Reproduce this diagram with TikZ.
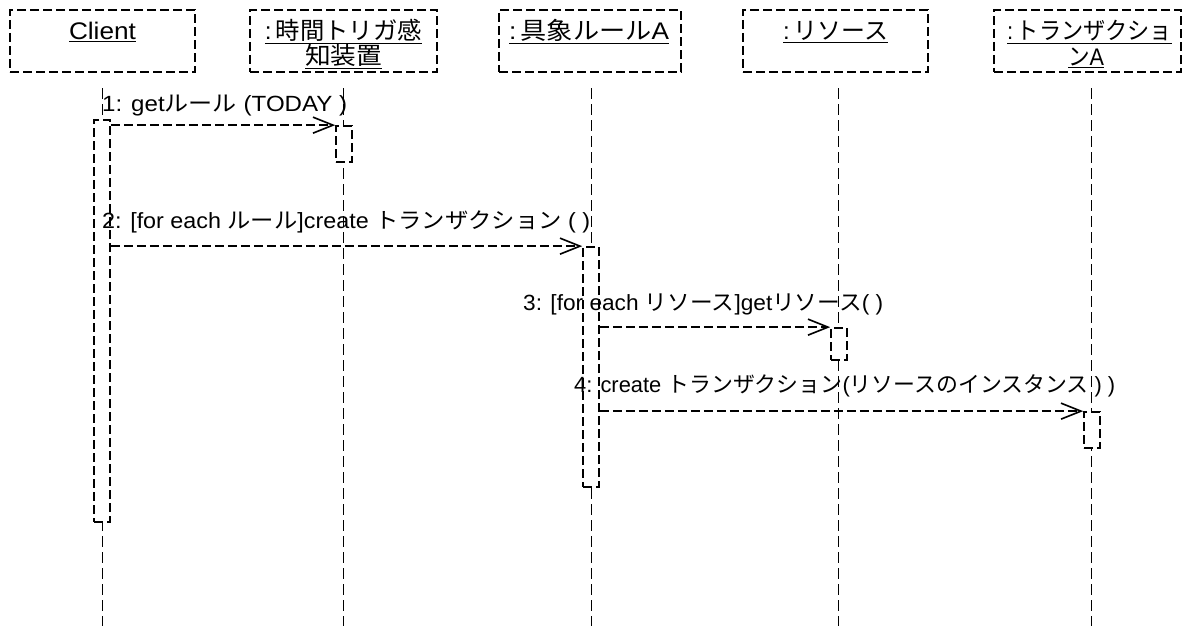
\documentclass[tikz,border=0pt]{standalone}
\usepackage{fontspec}
\setmainfont{Liberation Sans}
\newfontfamily\jp{Noto Sans CJK JP}
\usetikzlibrary{arrows.meta}
\newcommand\fitto[2]{\resizebox{#1}{\height}{#2}}
\begin{document}
\begin{tikzpicture}[x=1pt,y=-1pt,
  hdr/.style={draw, line width=1.7pt, dash pattern=on 9pt off 4pt, inner sep=0pt, minimum height=62pt},
  txt/.style={inner sep=0pt, font=\fontsize{22}{26}\selectfont},
  htxt/.style={inner sep=0pt, font=\fontsize{24}{28}\selectfont},
  life/.style={line width=1pt, dash pattern=on 11pt off 5pt},
  act/.style={draw, fill=white, line width=1.7pt, dash pattern=on 9pt off 4pt, inner sep=0pt, minimum width=16pt},
  msg/.style={line width=1.6pt, dash pattern=on 9pt off 4pt, -{Straight Barb[length=20pt,width=16pt,line width=1.6pt]}}]
\useasboundingbox (0,0) rectangle (1193,626);
\fill[white] (0,0) rectangle (1193,626);
% header boxes
\node[hdr, minimum width=185pt] (hc) at (102.5,41) {};
\node[hdr, minimum width=187pt] (ht) at (343.5,41) {};
\node[hdr, minimum width=182pt] (hr) at (590,41) {};
\node[hdr, minimum width=185pt] (hs) at (835.5,41) {};
\node[hdr, minimum width=187pt] (hx) at (1087.5,41) {};
% header texts
\node[htxt, anchor=base] (tc) at (102.5,40) {\fitto{67pt}{\underline{Client}}};
\node[htxt, anchor=base] (tt1) at (343.5,40) {\fitto{157pt}{\underline{:\,{\jp 時間トリガ感}}}};
\node[htxt, anchor=base] (tt2) at (343.5,65) {\fitto{77pt}{\underline{{\jp 知装置}}}};
\node[htxt, anchor=base] (tr) at (589,40) {\fitto{160pt}{\underline{:\,{\jp 具象ルール}A}}};
\node[htxt, anchor=base] (ts) at (835.5,40) {\fitto{105pt}{\underline{:\,{\jp リソース}}}};
\node[htxt, anchor=base] (tx1) at (1089.5,40) {\fitto{165pt}{\underline{:\,{\jp トランザクショ}}}};
\node[htxt, anchor=base] (tx2) at (1086,65) {\fitto{36pt}{\underline{{\jp ン}A}}};
% lifelines
\coordinate (lc0) at (102,88);  \coordinate (lc1) at (102,626);
\coordinate (lt0) at (343,88);  \coordinate (lt1) at (343,626);
\coordinate (lr0) at (591,88);  \coordinate (lr1) at (591,626);
\coordinate (ls0) at (838,88);  \coordinate (ls1) at (838,626);
\coordinate (lx0) at (1091,88); \coordinate (lx1) at (1091,626);
\draw[life] (lc0) -- (lc1);
\draw[life] (lt0) -- (lt1);
\draw[life] (lr0) -- (lr1);
\draw[life] (ls0) -- (ls1);
\draw[life] (lx0) -- (lx1);
% activations
\node[act, minimum height=402pt] (a1) at (102,321) {};
\node[act, minimum height=36pt] (a2) at (344,144) {};
\node[act, minimum height=240pt] (a3) at (591,367) {};
\node[act, minimum height=32pt] (a4) at (839,344) {};
\node[act, minimum height=36pt] (a5) at (1092,430) {};
% messages
\draw[msg] (a1.east |- a2.north) -- (a2.north west);
\draw[msg] (a1.east |- a3.north) -- (a3.north west);
\draw[msg] (a3.east |- a4.north) -- (a4.north west);
\draw[msg] (a3.east |- a5.north) -- (a5.north west);
% message labels
\node[txt, anchor=base west] (m1) at (102,111) {\fitto{245pt}{1: get{\jp ルール} (TODAY )}};
\node[txt, anchor=base west] (m2) at (102,228) {\fitto{488pt}{2: [for each {\jp ルール}]create {\jp トランザクション} ( )}};
\node[txt, anchor=base west] (m3) at (523,310) {\fitto{360pt}{3: [for each {\jp リソース}]get{\jp リソース}( )}};
\node[txt, anchor=base west] (m4) at (574,392) {\fitto{541pt}{4: create {\jp トランザクション}({\jp リソースのインスタンス} ) )}};
\end{tikzpicture}
\end{document}
